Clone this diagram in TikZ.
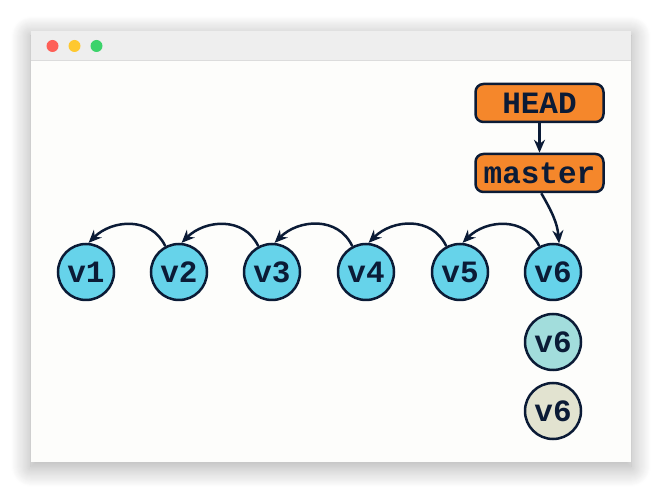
\documentclass[tikz,border=0pt]{standalone}
\usepackage{fontspec}
\newfontfamily\cour{Liberation Mono}
\usetikzlibrary{arrows.meta,shadows.blur}
\definecolor{navy}{HTML}{0B1B36}
\definecolor{cfill}{HTML}{66D3EA}
\definecolor{cfillb}{HTML}{A2DDDC}
\definecolor{cfillc}{HTML}{E2E3D0}
\definecolor{orng}{HTML}{F5872B}
\definecolor{winbg}{HTML}{FDFDFB}
\definecolor{titlebg}{HTML}{EEEEEE}
\definecolor{titleln}{HTML}{DCDCDC}
\definecolor{dred}{HTML}{FE5F57}
\definecolor{dyel}{HTML}{FEC82F}
\definecolor{dgrn}{HTML}{3CD36B}
\tikzset{
  commit/.style={circle,draw=navy,line width=2.5pt,fill=cfill,minimum size=56pt,inner sep=0pt,
    font=\cour\bfseries\fontsize{31}{31}\selectfont,text=navy},
  refbox/.style={rectangle,rounded corners=8pt,draw=navy,line width=2.5pt,fill=orng,
    minimum width=128pt,minimum height=38pt,inner sep=0pt,
    font=\cour\bfseries\fontsize{31}{31}\selectfont,text=navy},
  conn/.style={draw=navy,line width=2.5pt,-{Stealth[length=13pt,width=11pt]}},
  dot/.style={circle,inner sep=0pt,minimum size=12pt}
}
\begin{document}
\begin{tikzpicture}[x=1pt,y=1pt]
\useasboundingbox (0,0) rectangle (662,493);
% window
\fill[winbg,blur shadow={shadow xshift=0pt,shadow yshift=-5pt,shadow blur radius=20pt,shadow blur steps=20,shadow opacity=35}] (31,31) rectangle (631,462);
\fill[titlebg] (31,432) rectangle (631,462);
\draw[titleln,line width=1pt] (31,432) -- (631,432);
\node[dot,fill=dred] (d1) at (52.5,447) {};
\node[dot,fill=dyel] (d2) at (74.5,447) {};
\node[dot,fill=dgrn] (d3) at (96.5,447) {};
% commits
\node[commit] (v1) at (86,221) {v1};
\node[commit] (v2) at (179,221) {v2};
\node[commit] (v3) at (272,221) {v3};
\node[commit] (v4) at (366,221) {v4};
\node[commit] (v5) at (460,221) {v5};
\node[commit] (v6) at (553,221) {v6};
\node[commit,fill=cfillb] (v6b) at (553,151) {v6};
\node[commit,fill=cfillc] (v6c) at (553,82) {v6};
% refs
\node[refbox] (head) at (539.5,390) {HEAD};
\node[refbox] (master) at (539.5,320) {master};
% connectors
\draw[conn] (head) -- (master);
\draw[conn] (master.-85) to[out=-60,in=95] (v6.78);
\draw[conn] (v2.118) to[out=115,in=45,looseness=1.1] (v1.85);
\draw[conn] (v3.118) to[out=115,in=45,looseness=1.1] (v2.85);
\draw[conn] (v4.118) to[out=115,in=45,looseness=1.1] (v3.85);
\draw[conn] (v5.118) to[out=115,in=45,looseness=1.1] (v4.85);
\draw[conn] (v6.118) to[out=115,in=45,looseness=1.1] (v5.85);
\end{tikzpicture}
\end{document}
